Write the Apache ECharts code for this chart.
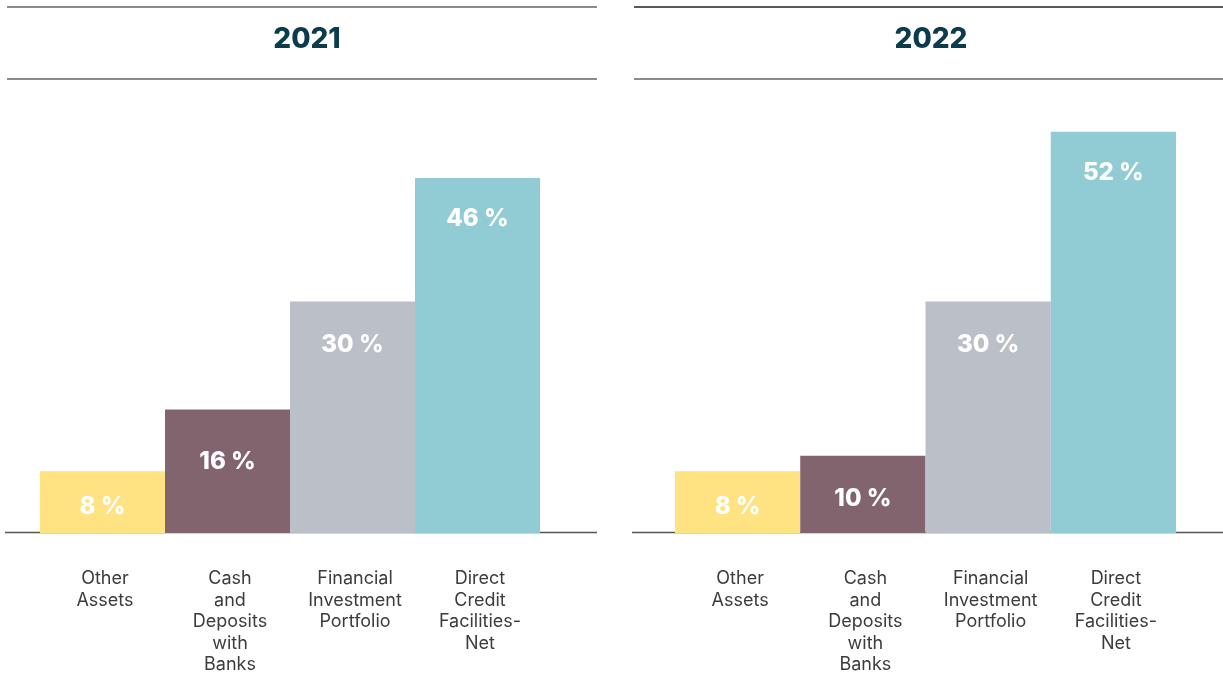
<!DOCTYPE html>
<html>
<head>
<meta charset="utf-8">
<script src="https://cdn.jsdelivr.net/npm/echarts@6/dist/echarts.min.js"></script>
<style>
html,body{margin:0;padding:0;background:#fff;}
#c{width:1223px;height:676px;}
</style>
</head>
<body>
<div id="c"></div>
<script>
// ---- data ----
const categories = ['Other\nAssets', 'Cash\nand\nDeposits\nwith\nBanks', 'Financial\nInvestment\nPortfolio', 'Direct\nCredit\nFacilities-\nNet'];
const years = ['2021', '2022'];
const values2021 = [8, 16, 30, 46];
const values2022 = [8, 10, 30, 52];

// ---- styling ----
const barColors = ['#FFE281', '#82646F', '#BBBFC7', '#91CBD3'];
const labelGap2021 = [24, 40, 31, 29];
const labelGap2022 = [24, 31, 31, 29];
const titleColor = '#0C3B4B';
const ruleColor = '#8C8C8C';
const baseColor = '#555555';

function makeData(vals, gaps) {
  return vals.map((v, i) => ({
    value: v,
    itemStyle: { color: barColors[i] },
    label: { distance: gaps[i] }
  }));
}

const gridBottom = 143;
const gridTop = 70;
const chart = echarts.init(document.getElementById('c'), null, { renderer: 'canvas' });

const axisLabelStyle = {
  color: '#3C3C3C',
  fontFamily: 'Inter',
  fontSize: 18,
  lineHeight: 21.5,
  margin: 35,
  padding: [0, 0, 0, 5],
  interval: 0
};

function hline(x1, x2, y, color, w) {
  return { type: 'line', shape: { x1: x1, y1: y, x2: x2, y2: y }, style: { stroke: color, lineWidth: w }, silent: true };
}

const titleStyle = { color: titleColor, fontFamily: 'Inter', fontWeight: 800, fontSize: 28 };
const barLabel = { show: true, position: 'insideTop', formatter: '{c} %', color: '#FFFFFF',
  fontFamily: 'Inter', fontWeight: 800, fontSize: 24, lineHeight: 24 };

chart.setOption({
  animation: false,
  title: [
    { text: years[0], left: 302, top: 21, textAlign: 'center', textStyle: titleStyle },
    { text: years[1], left: 926, top: 21, textAlign: 'center', textStyle: titleStyle }
  ],
  grid: [
    { left: 40, width: 500, top: gridTop, bottom: gridBottom },
    { left: 675, width: 501, top: gridTop, bottom: gridBottom }
  ],
  xAxis: [
    { type: 'category', gridIndex: 0, data: categories, axisLine: { show: false }, axisTick: { show: false }, axisLabel: axisLabelStyle },
    { type: 'category', gridIndex: 1, data: categories, axisLine: { show: false }, axisTick: { show: false }, axisLabel: axisLabelStyle }
  ],
  yAxis: [
    { type: 'value', gridIndex: 0, min: 0, max: 60, show: false, splitLine: { show: false } },
    { type: 'value', gridIndex: 1, min: 0, max: 60, show: false, splitLine: { show: false } }
  ],
  series: [
    { type: 'bar', xAxisIndex: 0, yAxisIndex: 0, barWidth: '100%', data: makeData(values2021, labelGap2021), label: barLabel },
    { type: 'bar', xAxisIndex: 1, yAxisIndex: 1, barWidth: '100%', data: makeData(values2022, labelGap2022), label: barLabel }
  ],
  graphic: [
    hline(7, 597, 7, ruleColor, 2),
    hline(7, 597, 79, ruleColor, 2),
    hline(634, 1223, 7, '#5A5A5A', 2),
    hline(634, 1223, 79, ruleColor, 2),
    hline(5, 597, 532.5, baseColor, 1.5),
    hline(632, 1223, 532.5, baseColor, 1.5)
  ]
});
</script>
</body>
</html>
